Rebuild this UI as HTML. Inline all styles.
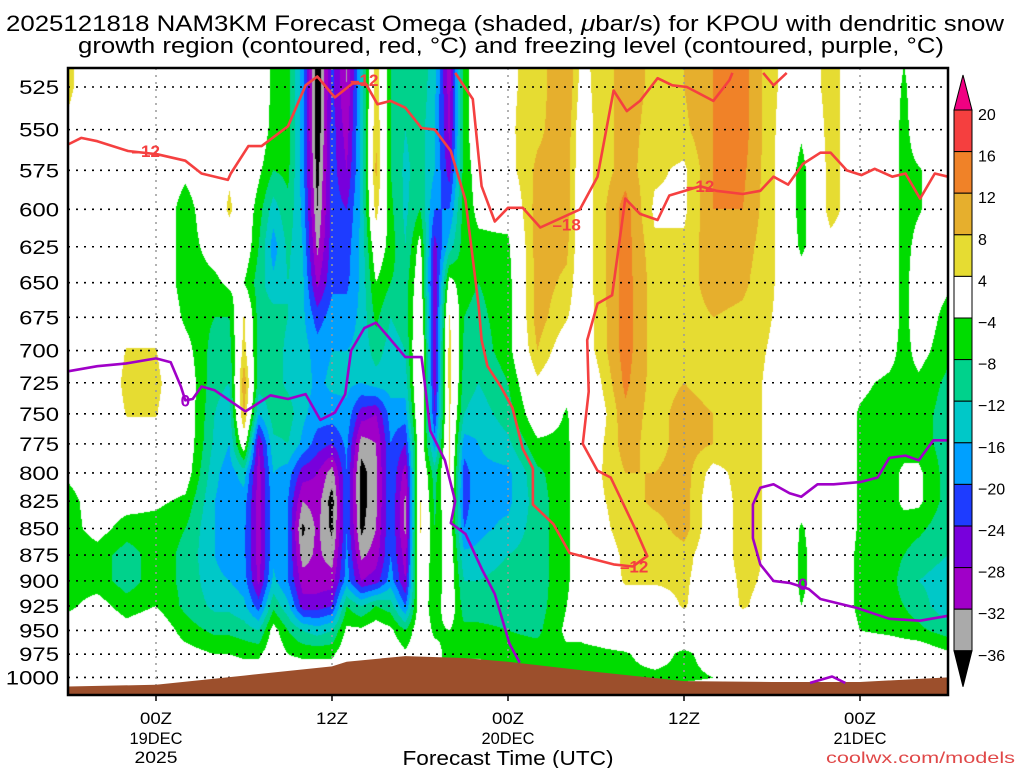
<!DOCTYPE html>
<html><head><meta charset="utf-8"><title>NAM3KM Omega KPOU</title>
<style>
html,body{margin:0;padding:0;background:#fff;}
#wrap{position:relative;width:1024px;height:768px;overflow:hidden;}
canvas{position:absolute;left:68px;top:68px;}
svg{position:absolute;left:0;top:0;}
text{font-family:"Liberation Sans",sans-serif;}
</style></head>
<body>
<div id="wrap">
<canvas id="field" width="880" height="627"></canvas>
<svg id="ov" width="1024" height="768" xmlns="http://www.w3.org/2000/svg">
  <text x="505" y="31" font-size="22" text-anchor="middle" textLength="998" lengthAdjust="spacingAndGlyphs">2025121818 NAM3KM Forecast Omega (shaded, <tspan font-style="italic">μ</tspan>bar/s) for KPOU with dendritic snow</text>
  <text x="511" y="53" font-size="22" text-anchor="middle" textLength="866" lengthAdjust="spacingAndGlyphs">growth region (contoured, red, °C) and freezing level (contoured, purple, °C)</text>
  <g id="grid"></g>
  <g id="terrain"></g>
  <g id="contours"></g>
  <rect x="68" y="68" width="880" height="627" fill="none" stroke="#000" stroke-width="2.5"/>
  <g id="yaxis"></g>
  <g id="xaxis"></g>
  <text x="508" y="765" font-size="20" text-anchor="middle" textLength="211" lengthAdjust="spacingAndGlyphs">Forecast Time (UTC)</text>
  <text x="1015" y="763" font-size="16" text-anchor="end" fill="#e04848" textLength="189" lengthAdjust="spacingAndGlyphs">coolwx.com/models</text>
  <g id="cbar"></g>
</svg>
</div>
<script>
// ---- data ----
const hours = [0,2,4,6,8,10,11,12,13,14,15,16,17,18,19,20,21,22,23,24,25,26,27,28,30,32,34,35,36,38,40,42,44,46,48,50,52,54,56,57,58,60];
const levels = [500,525,550,575,600,625,650,675,700,725,750,775,800,825,850,875,900,925,950,975,1000,1025];
const omega = [
[5,5,3,0,0,0,0,0,0,0,0,0,-3,-6,-6,-7,-6,-5,-1,0,0,0],
[0,0,0,0,0,0,0,0,0,0,0,0,0,-1,-2,-6,-6,-2,0,0,0,0],
[0,0,0,0,0,0,0,2,4.2,5,4.2,2,0,-2,-6,-10,-10,-6,-2,0,0,0],
[0,0,0,0,0,0,0,2,4.2,5,4.2,2,0,-3,-6,-6,-6,-4,0,0,0,0],
[0,0,0,-3,-6,-6,-6,-5,-2,0,0,0,-1,-5,-8,-9,-9,-9,-6,-2,0,0],
[0,0,0,0,0,-2,-5,-8,-10,-11,-12,-13,-15,-16,-16,-16,-15,-13,-9,-4,0,0],
[0,0,0,3,5,0,-3,-8,-10,-12,-14,-16,-18,-18,-18,-18,-16,-13,-9,-4,0,0],
[0,0,0,0,0,0,-4,4.5,6,11,9,0,-14,-18,-19,-19,-18,-15,-10,-5,0,0],
[0,0,0,-3,-6,-8,-10,-10,-10,-10,-16,-28,-30,-30,-30,-30,-29,-22,-12,-5,0,0],
[-5,-5,-6,-8,-14,-18,-15,-10,-10,-10,-10,-13,-16,-17,-17,-17,-15,-9,-2,0,0,0],
[-6,-6,-6,-7,-9,-11,-12,-12,-13,-13,-10,-12,-18,-20,-20,-20,-20,-15,-8,-4,0,0],
[-18,-18,-18,-18,-17,-16,-15,-15,-14,-14,-15,-17,-26,-32,-37,-34,-30,-26,-12,-5,0,0],
[-40,-40,-40,-38,-36,-33,-29,-22,-18,-17,-18,-22,-28,-30,-31,-31,-30,-26,-14,-5,0,0],
[-23,-23,-22,-22,-22,-22,-21,-18,-16,-15,-18,-24,-34,-38,-37,-34,-30,-24,-12,-5,0,0],
[-33,-32,-30,-28,-24,-22,-21,-18,-16,-15,-17,-19,-20,-20,-20,-19,-18,-8,-3,0,0,0],
[-15,-15,-15,-15,-15,-15,-15,-15,-15,-16,-26,-34,-38,-38,-37,-33,-28,-12,-3,0,0,0],
[6,7,8,9,6,0,-4,-7,-10,-14,-28,-32,-33,-33,-32,-30,-26,-8,-1,0,0,0],
[-8,-8,-8,-8,-7,-6,-8,-12,-14,-14,-18,-20,-20,-20,-20,-20,-18,-10,-3,0,0,0],
[-10,-11,-12,-13,-13,-12,-10,-10,-12,-14,-18,-24,-30,-33,-33,-30,-28,-20,-8,-3,0,0],
[-8,-9,-10,-10,-8,-2,0,2,4.5,4.5,3,1,2,4.5,4.5,4,2,0,0,0,0,0],
[-15,-15,-16,-16,-20,-26,-28,-28,-27,-27,-24,-18,-10,-9,-8,-8,-8,-7,-5,-2,0,0],
[-30,-30,-29,-26,-20,-14,-2,4.5,6,6,5,4.5,4.5,2,0,0,0,0,-4,-6,-6,0],
[-6,-6,-6,-6,-6,-6,-7,-8,-9,-10,-12,-18,-22,-22,-20,-15,-12,-10,-7,-5,0,0],
[0,0,0,-2,-3,-5,-8,-9,-10,-12,-14,-16,-17,-17,-17,-15,-12,-10,-7,-5,0,0],
[3,3,3,2,-2,-5,-6,-6,-6,-8,-10,-13,-17,-17,-15,-12,-10,-10,-8,-6,-5,0],
[6,6,7,9,10,10,10,10,8,3,0,-5,-9,-10,-10,-10,-10,-10,-9,-6,-5,0],
[12,12,11,10,10,9,7,4.5,0,-2,-4.5,-5,-5,-5,-5,-5,-5,-4,-3,-5,-5,0],
[3,2,0,0,0,0,0,0,0,0,0,0,0,0,0,0,0,0,-3,-5,-5,0],
[5,5,5,5,5,5,5,4.5,4.5,2,0,2,3,3,2,0,0,0,-2,-5,-5,0],
[10,10,10,10,14,14,14,14,14,13,11,10,8,6,6,5,4.5,1,0,-4.5,-5,0],
[7,7,6,5,3,5,6,6,6,6,6,6,8,9,6,5,4.5,1,0,-2,-5,0],
[8,8,7,3,3,5,6,6,6,8,10,10,10,10,10,6,5,4.5,0,-5,-5,0],
[12,12,12,12,12,11,10,8,6,6,8,8,2,0,0,0,0,0,0,-2,-4,0],
[14,14,14,13,12,10,9,7,6,6,6,6,6,6,6,6,5,4.5,1,0,0,0],
[5,5,5,5,5,5,4.5,4,3.5,3,3,3,3,3,3,3,3,2,0,0,0,0],
[0,0,-3,-6,-6,-5,-1,0,0,0,0,0,0,-2,-4.5,-5,-5,-4,0,0,0,0],
[6,6,6,6,6,2,0,0,0,0,0,0,0,0,0,0,0,0,0,0,0,0],
[0,0,0,0,0,0,0,0,0,-3,-4.5,-4.5,-4.5,-4.5,-4.5,-5,-5,-5,-4,0,0,0],
[0,0,0,0,0,0,0,0,-2,-5,-6,-6,-6,-6,-6,-6,-6,-6,-5,0,0,0],
[-3,-5,-6,-6,-6,-6,-6,-6,-6,-6,-6,-6,-3,-3,-6,-8,-10,-8,-6,0,0,0],
[0,0,0,-4.5,-4.5,-2,0,0,-2,-5,-6,-6,-3,-3,-7,-10,-12,-10,-7,0,0,0],
[0,0,0,0,0,0,-3,-6,-7,-9,-10,-10,-10,-10,-11,-12,-14,-15,-10,-3,0,0]
];
const shadeBounds = [-36,-32,-28,-24,-20,-16,-12,-8,-4,4,8,12,16,20];
const shadeColors = ['#000000','#aaaaaa','#a000c8','#7800dc','#1e3cff','#00a0ff','#00c8c8','#00d28c','#00dc00','#ffffff','#e6dc32','#e6af2d','#f08228','#f53f3f','#f00082'];
const cbarLabels = ['20','16','12','8','4','\u22124','\u22128','\u221212','\u221216','\u221220','\u221224','\u221228','\u221232','\u221236'];
const terrainH = [0,6,12,18,19,23,27,30,36,42,48,54,60];
const terrainP = [1010,1008,998,988,983,977,979,983,994,1004,1005,1005,1000];
const red12H = [0,0.9,2.0,4.1,6.1,8.0,9.1,10.9,11.1,12.3,13.2,15.0,16.2,17.0,18.2,19.4,20.3,21.1,22.0,23.0,24.1,25.0,26.1,27.1,28.0,28.2,28.6,29.5,30.3,31.0,31.7,31.7,33.1,34.2,37.2,38.5,39.5,38.8,37.0,36.1,35.1,35.5,35.4,36.1,37.1,38.0,39.0,40.2,41.0,43.1,44.2,46.0,47.2,48.1,49.1,50.1,51.3,52.0,53.1,54.1,55.0,56.2,57.1,58.1,59.1,60.0];
const red12P = [559,555,557,563,565,569,577,581,577,560,560,548,524,519,531,523,523,535,533,537,549,550,563,594,667,692,712,728,745,779,796,828,846,873,884,886,876,854,804,798,775,732,692,665,659,593,603,607,591,585,588,590,588,579,584,571,564,564,575,578,574,579,577,593,577,579];
const red18H = [26.4,27.6,28.2,29.1,30.0,31.0,32.2,34.9,36.1,37.2,38.1,39.0,40.2,41.2,42.2,44.0,45.1,45.3];
const red18P = [517,532,585,608,599,599,612,600,579,527,539,533,520,524,525,533,521,517];
const red18bH = [47.4,48.1,49.0];
const red18bP = [517,524,517];
const frz1H = [0,2.0,3.9,6.0,7.0,7.7,8.0,8.5,9.1,10.0,12.1,13.8,15.0,16.2,17.2,18.2,18.9,19.3,20.2,21.0,21.8,23.0,24.1,24.3,24.7,25.7,26.4,26.1,27.1,28.2,29.1,30.1,30.8];
const frz1P = [716,712,710,706,709,728,739,738,728,731,748,735,738,734,755,749,734,700,683,679,689,705,705,723,764,789,825,845,855,888,913,964,984];
const frz2H = [60.0,58.1,56.0,53.8,51.3,50.5,49.2,48.1,47.2,46.7,46.7,47.2,48.1,49.2,50.0,51.1,52.2,54.0,55.2,56.0,57.1,58.0,59.0,60.0];
const frz2P = [935,940,938,927,918,908,902,900,884,859,828,813,810,818,821,810,810,808,804,787,785,789,772,772];
const frz3H = [50.6,52.1,53.0];
const frz3P = [1006,999,1006];
const yTicks = [525,550,575,600,625,650,675,700,725,750,775,800,825,850,875,900,925,950,975,1000];
const xTickHours = [6,18,30,42,54];
const xTickTime = ['00Z','12Z','00Z','12Z','00Z'];
const xTickDate = ['19DEC','','20DEC','','21DEC'];
const xTickYear = ['2025','','','',''];

// ---- axes ----
const PX0=68, PX1=948, PY0=68, PY1=695;
function xOf(h){ return PX0 + h*(PX1-PX0)/60; }
function yOf(p){ return 87 + 916.3*Math.log(p/525); }
function pOf(y){ return 525*Math.exp((y-87)/916.3); }
function hOf(x){ return (x-PX0)*60/(PX1-PX0); }

// ---- shading ----
(function(){
  const cv=document.getElementById('field'); const ctx=cv.getContext('2d');
  const W=cv.width, Hh=cv.height; const img=ctx.createImageData(W,Hh);
  const rgb=shadeColors.map(c=>[parseInt(c.substr(1,2),16),parseInt(c.substr(3,2),16),parseInt(c.substr(5,2),16)]);
  const nL=levels.length;
  for(let j=0;j<Hh;j++){
    const p=pOf(PY0+j+0.5);
    let k=Math.floor((p-levels[0])/25); if(k<0)k=0; if(k>nL-2)k=nL-2;
    const u=Math.min(1,Math.max(0,(p-levels[k])/(levels[k+1]-levels[k])));
    let i=0;
    for(let x=0;x<W;x++){
      const h=hOf(PX0+x+0.5);
      while(i<hours.length-2 && h>hours[i+1]) i++;
      const t=Math.min(1,Math.max(0,(h-hours[i])/(hours[i+1]-hours[i])));
      const a=omega[i][k]*(1-u)+omega[i][k+1]*u;
      const b=omega[i+1][k]*(1-u)+omega[i+1][k+1]*u;
      const v=a*(1-t)+b*t;
      let ci=0; while(ci<shadeBounds.length && v>=shadeBounds[ci]) ci++;
      const c=rgb[ci]; const o=(j*W+x)*4;
      img.data[o]=c[0]; img.data[o+1]=c[1]; img.data[o+2]=c[2]; img.data[o+3]=255;
    }
  }
  ctx.putImageData(img,0,0);
})();

const NS='http://www.w3.org/2000/svg';
function mk(tag,attrs,parent){ const e=document.createElementNS(NS,tag); for(const k in attrs) e.setAttribute(k,attrs[k]); parent.appendChild(e); return e; }

// ---- grid ----
const grid=document.getElementById('grid');
yTicks.forEach(p=>{
  const l=mk('line',{x1:PX0,x2:PX1,y1:yOf(p),y2:yOf(p),stroke:'#000','stroke-width':1.6,'stroke-dasharray':'2 6'},grid);
  
  
});
xTickHours.forEach((h,i)=>{
  const l=mk('line',{x1:xOf(h),x2:xOf(h),y1:PY0,y2:PY1,stroke:'#999','stroke-width':1.5,'stroke-dasharray':'2 5'},grid);
  
  
});

// ---- terrain ----
(function(){
  let d='M'+xOf(terrainH[0])+','+PY1;
  terrainH.forEach((h,i)=>{ d+=' L'+xOf(h)+','+Math.min(PY1,yOf(terrainP[i])); });
  d+=' L'+xOf(60)+','+PY1+' Z';
  const t=mk('path',{d:d,fill:'#9c4f2c'},document.getElementById('terrain'));
  
  
})();

// ---- contours ----
const cg=document.getElementById('contours');
function line(H,P,color,name){
  const pts=H.map((h,i)=>xOf(h).toFixed(1)+','+yOf(P[i]).toFixed(1)).join(' ');
  const e=mk('polyline',{points:pts,fill:'none',stroke:color,'stroke-width':2.6,'stroke-linejoin':'round'},cg);
  
  
}
line(red12H,red12P,'#f54040','dgz-contour-minus12');
line(red18H,red18P,'#f54040','dgz-contour-minus18');
line(red18bH,red18bP,'#f54040','dgz-contour-minus18-b');
line(frz1H,frz1P,'#a000c8','freezing-level-contour');
line(frz2H,frz2P,'#a000c8','freezing-level-contour-east');
line(frz3H,frz3P,'#a000c8','freezing-level-contour-surface');
const labH=[5.3,20.2,34.0,43.1,38.6];
const labP=[563,521,610,585,886];
const labT=['\u201312','\u201312','\u201318','\u201312','\u201312'];
labT.forEach((s,i)=>{
  const t=mk('text',{x:xOf(labH[i]),y:yOf(labP[i])+6,'font-size':17,'font-weight':'bold',fill:'#f54040','text-anchor':'middle'},cg);
  t.textContent=s;
  
  
});
const zH=[8.0,50.1]; const zP=[739,903];
zH.forEach((h,i)=>{
  const t=mk('text',{x:xOf(h),y:yOf(zP[i])+6,'font-size':17,'font-weight':'bold',fill:'#a000c8','text-anchor':'middle'},cg);
  t.textContent='0';
  
  
});

// ---- y axis ----
const ya=document.getElementById('yaxis');
yTicks.forEach(p=>{
  const s=String(p);
  const t=mk('text',{x:59,y:yOf(p)+7,'font-size':19,'text-anchor':'end',textLength:s.length*13.3,lengthAdjust:'spacingAndGlyphs'},ya);
  t.textContent=s;
  
  
});

// ---- x axis ----
const xa=document.getElementById('xaxis');
xTickHours.forEach((h,i)=>{
  const x=xOf(h);
  const tk=mk('line',{x1:x,x2:x,y1:PY1,y2:PY1+6,stroke:'#000','stroke-width':1.5},xa);
  
  
  const a=mk('text',{x:x,y:724,'font-size':17,'text-anchor':'middle',textLength:32,lengthAdjust:'spacingAndGlyphs'},xa);
  a.textContent=xTickTime[i];
  
  
  if(xTickDate[i]){
    const b=mk('text',{x:x,y:744,'font-size':17,'text-anchor':'middle',textLength:53,lengthAdjust:'spacingAndGlyphs'},xa);
    b.textContent=xTickDate[i];
    
    
  }
  if(xTickYear[i]){
    const c=mk('text',{x:x,y:763,'font-size':17,'text-anchor':'middle',textLength:43,lengthAdjust:'spacingAndGlyphs'},xa);
    c.textContent=xTickYear[i];
    
    
  }
});

// ---- colorbar ----
(function(){
  const cb=document.getElementById('cbar');
  const top=110, step=41.6, x0=954, w=18;
  const tri=mk('polygon',{points:`${x0},${top} ${x0+w},${top} ${x0+w/2},75`,fill:shadeColors[14],stroke:'#000','stroke-width':1},cb);
  
  
  for(let i=0;i<13;i++){
    const r=mk('rect',{x:x0,y:top+i*step,width:w,height:step,fill:shadeColors[13-i],stroke:'#000','stroke-width':1},cb);
    
    
  }
  const bot=top+13*step;
  const tb=mk('polygon',{points:`${x0},${bot} ${x0+w},${bot} ${x0+w/2},${bot+36}`,fill:'#000',stroke:'#000','stroke-width':1},cb);
  
  
  cbarLabels.forEach((s,i)=>{
    const t=mk('text',{x:978,y:top+i*step+10,'font-size':16},cb);
    t.textContent=s;
    
    
  });
})();
</script>
</body></html>
